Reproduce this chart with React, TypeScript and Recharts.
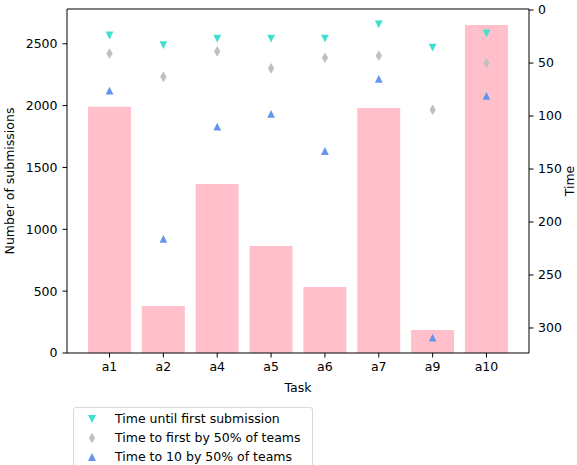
import React from 'react';
import {
  ComposedChart,
  Bar,
  Scatter,
  XAxis,
  YAxis,
} from 'recharts';

const tasks = ['a1', 'a2', 'a4', 'a5', 'a6', 'a7', 'a9', 'a10'];
const submissions = [1990, 380, 1366, 865, 534, 1981, 186, 2652];
const firstSubmission = [24, 33, 27, 27, 27, 13.5, 35.5, 22];
const firstByHalf = [41, 63, 39, 55, 45, 43, 94, 50];
const tenByHalf = [76, 216, 110, 98, 133, 65, 309, 81];

const leftTicks = [0, 500, 1000, 1500, 2000, 2500];
const rightTicks = [0, 50, 100, 150, 200, 250, 300];

const FONT = '"DejaVu Sans", sans-serif';
const CYAN = '#40E0D0';
const GRAY = '#C0C0C0';
const BLUE = '#6495ED';
const PINK = '#FFC0CB';

const data = tasks.map((task, i) => ({
  task,
  count: submissions[i],
  first: firstSubmission[i],
  half: firstByHalf[i],
  ten: tenByHalf[i],
}));

const TriDown = (props: any) => {
  const { cx, cy } = props;
  const s = 3.9;
  return <path d={`M${cx - s},${cy - s}L${cx + s},${cy - s}L${cx},${cy + s}Z`} fill={CYAN} />;
};

const TriUp = (props: any) => {
  const { cx, cy } = props;
  const s = 3.9;
  return <path d={`M${cx - s},${cy + s}L${cx + s},${cy + s}L${cx},${cy - s}Z`} fill={BLUE} />;
};

const Diamond = (props: any) => {
  const { cx, cy } = props;
  const w = 3.2;
  const h = 5.3;
  return <path d={`M${cx},${cy - h}L${cx + w},${cy}L${cx},${cy + h}L${cx - w},${cy}Z`} fill={GRAY} />;
};

const legendItems = [
  { label: 'Time until first submission', kind: 'down', color: CYAN },
  { label: 'Time to first by 50% of teams', kind: 'diamond', color: GRAY },
  { label: 'Time to 10 by 50% of teams', kind: 'up', color: BLUE },
];

const LegendIcon = ({ kind, color }: { kind: string; color: string }) => {
  let d = '';
  if (kind === 'down') d = 'M1,2L9,2L5,10Z';
  if (kind === 'up') d = 'M1,10L9,10L5,2Z';
  if (kind === 'diamond') d = 'M5,0.7L8.2,6L5,11.3L1.8,6Z';
  return (
    <svg width={10} height={12} style={{ display: 'block' }}>
      <path d={d} fill={color} />
    </svg>
  );
};

const tickStyle = { fill: '#000', fontSize: 12.5, fontFamily: FONT };

export default function App() {
  return (
    <div
      style={{
        position: 'absolute',
        left: 0,
        top: 0,
        width: 577,
        height: 465,
        overflow: 'hidden',
        background: '#fff',
        fontFamily: FONT,
      }}
    >
      <ComposedChart
        width={577}
        height={465}
        data={data}
        margin={{ top: 8, right: 0, bottom: 72, left: 7 }}
        barCategoryGap="10%"
      >
        <XAxis
          dataKey="task"
          xAxisId="bottom"
          height={40}
          padding={{ left: 15.6, right: 15.6 }}
          tick={tickStyle}
          tickSize={4.5}
          tickMargin={5}
          stroke="#000"
          interval={0}
          label={{
            value: 'Task',
            position: 'insideBottom',
            offset: 1,
            style: { fill: '#000', fontSize: 12.5, fontFamily: FONT },
          }}
        />
        <XAxis
          dataKey="task"
          xAxisId="top"
          orientation="top"
          height={1}
          tick={false}
          tickLine={false}
          stroke="#000"
        />
        <YAxis
          yAxisId="left"
          width={60}
          domain={[0, 2781]}
          ticks={leftTicks}
          allowDataOverflow
          tick={tickStyle}
          tickSize={4.5}
          tickMargin={5}
          stroke="#000"
          label={{
            value: 'Number of submissions',
            angle: -90,
            position: 'insideLeft',
            offset: 3,
            style: { fill: '#000', fontSize: 12.5, fontFamily: FONT, textAnchor: 'middle' },
          }}
        />
        <YAxis
          yAxisId="right"
          orientation="right"
          width={48}
          domain={[-1, 323.6]}
          reversed
          ticks={rightTicks}
          allowDataOverflow
          tick={tickStyle}
          tickSize={4.5}
          tickMargin={4.5}
          stroke="#000"
          label={{
            value: 'Time',
            angle: -90,
            position: 'insideRight',
            offset: 7,
            style: { fill: '#000', fontSize: 12.5, fontFamily: FONT, textAnchor: 'middle' },
          }}
        />
        <Bar
          dataKey="count"
          xAxisId="bottom"
          yAxisId="left"
          fill={PINK}
          isAnimationActive={false}
        />
        <Scatter
          dataKey="first"
          xAxisId="bottom"
          yAxisId="right"
          shape={TriDown}
          isAnimationActive={false}
        />
        <Scatter
          dataKey="half"
          xAxisId="bottom"
          yAxisId="right"
          shape={Diamond}
          isAnimationActive={false}
        />
        <Scatter
          dataKey="ten"
          xAxisId="bottom"
          yAxisId="right"
          shape={TriUp}
          isAnimationActive={false}
        />
      </ComposedChart>
      <div
        style={{
          position: 'absolute',
          left: 73,
          top: 407,
          width: 240,
          height: 64,
          border: '1px solid #d9d9d9',
          borderRadius: 3,
          background: 'rgba(255,255,255,0.8)',
          boxSizing: 'border-box',
        }}
      >
        {legendItems.map((item, i) => (
          <div
            key={item.label}
            style={{
              position: 'absolute',
              left: 0,
              top: 1 + i * 19,
              height: 19,
              display: 'flex',
              alignItems: 'center',
              whiteSpace: 'nowrap',
            }}
          >
            <div style={{ width: 13 }} />
            <LegendIcon kind={item.kind} color={item.color} />
            <div style={{ width: 18 }} />
            <span style={{ fontSize: 12.5, color: '#000', lineHeight: '19px' }}>{item.label}</span>
          </div>
        ))}
      </div>
    </div>
  );
}
